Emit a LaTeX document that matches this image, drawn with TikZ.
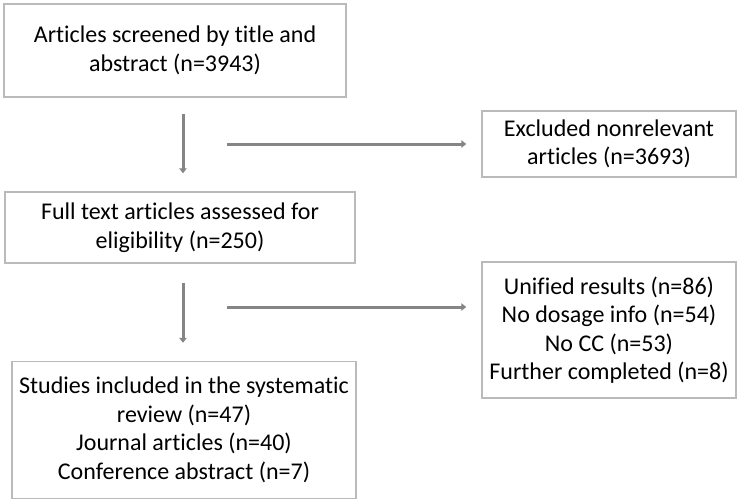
\documentclass[tikz,border=0pt]{standalone}
\usepackage{fontspec}
\setmainfont{Carlito}[Ligatures=NoCommon]
\usetikzlibrary{arrows.meta}
\begin{document}
\begin{tikzpicture}[x=1pt,y=-1pt,
    box/.style={draw=black!27,line width=1.5pt,align=center,inner sep=0pt,
      font=\fontsize{24}{28.5}\selectfont},
    arr/.style={draw=black!48,line width=3pt,-{Triangle[length=5pt,width=7.5pt]}}]
    \useasboundingbox (0,0) rectangle (740,504);

    \node[box,minimum width=342pt,minimum height=93pt] (screen) at (175,50.5) {Articles screened by title and\\abstract (n=3943)};
    \node[box,minimum width=254pt,minimum height=66pt] (excl) at (609,144) {Excluded nonrelevant\\articles (n=3693)};
    \node[box,minimum width=350pt,minimum height=71pt] (full) at (180,227.5) {Full text articles assessed for\\eligibility (n=250)};
    \node[box,minimum width=254pt,minimum height=136pt] (reasons) at (609,330) {Unified results (n=86)\\No dosage info (n=54)\\No CC (n=53)\\Further completed (n=8)};
    \node[box,minimum width=344pt,minimum height=137pt] (incl) at (184,430) {Studies included in the systematic\\review (n=47)\\Journal articles (n=40)\\Conference abstract (n=7)};

    \coordinate (v1) at (183,114);
    \coordinate (h1) at (227,144);
    \coordinate (v2) at (183,283);
    \coordinate (h2) at (227,307);

    \draw[arr, shorten >=18pt] (v1) -- (v1 |- full.north);
    \draw[arr, shorten >=15pt] (h1) -- (excl.west);
    \draw[arr, shorten >=18pt] (v2) -- (v2 |- incl.north);
    \draw[arr, shorten >=15pt] (h2) -- (h2 -| reasons.west);
\end{tikzpicture}
\end{document}
